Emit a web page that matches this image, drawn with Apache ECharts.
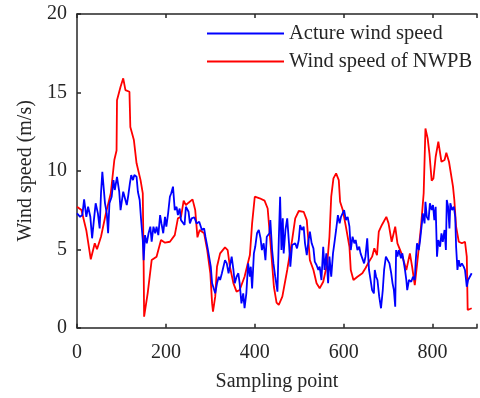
<!DOCTYPE html>
<html><head><meta charset="utf-8">
<script src="https://cdn.jsdelivr.net/npm/echarts@6/dist/echarts.min.js"></script>
<style>html,body{margin:0;padding:0;background:#fff}#c{width:480px;height:398px}</style>
</head><body><div id="c"></div>
<script>
const seriesNames = ['Acture wind speed', 'Wind speed of NWPB'];
const xTicks = [0, 200, 400, 600, 800];
const yTicks = [0, 5, 10, 15, 20];

const blueX = [0,7,12,16,21,25,30,34,38,42,47,51,54,57,60,63,67,70,73,78,82,85,90,95,98,104,107,112,115,119,122,126,129,134,137,141,144,148,150,153,157,161,165,168,172,176,179,183,187,190,194,198,201,205,209,212,
216,220,224,227,231,234,242,245,251,254,258,264,269,275,281,286,289,294,298,301,304,308,311,315,319,322,326,330,333,337,341,344,348,352,355,359,363,366,370,374,377,381,385,389,391,394,398,401,405,409,413,416,420,424,427,433,435,
439,442,446,451,454,457,460,463,465,469,473,477,480,484,488,491,495,499,502,506,510,513,517,521,524,528,532,535,539,543,546,550,554,557,561,565,568,572,576,580,583,587,591,594,598,601,605,609,613,616,620,624,627,631,635,638,642,646,649,653,657,660,
664,668,670,673,676,680,684,688,691,695,699,703,707,710,713,716,718,721,724,729,732,738,741,743,747,752,756,760,762,765,769,772,776,778,782,784,787,791,794,798,801,804,807,810,813,817,820,823,827,830,832,835,838,840,844,848,851,853,856,859,862,866,870,873,877,880,884,888];
const blueY = [7.29,7.07,7.18,8.18,7.07,7.71,7.07,5.7,6.86,7.93,7.29,6.33,8.57,9.94,9.84,7.93,7.29,6.02,7.93,8.35,9.41,8.78,9.62,8.67,7.5,8.67,8.35,7.82,8.35,9.2,9.73,9.41,9.73,9.62,8.67,8.14,6.97,5.59,4.31,5.9,5.38,6.02,6.44,5.48,6.44,6.02,6.44,5.9,7.18,6.65,6.02,7.07,6.44,7.29,8.35,8.57,
8.99,7.5,7.71,7.18,7.6,6.86,6.55,7.71,7.39,6.65,6.97,7.04,6.65,6.76,6.23,6.33,5.8,5.06,4.95,3.89,2.83,2.93,2.19,2.83,3.25,3.04,3.47,3.36,4.31,4.1,3.47,3.57,4.53,3.68,2.83,3.25,3.47,2.83,1.55,2.19,1.24,2.19,4.1,3.25,3.89,2.51,4.74,5.16,6.02,6.23,5.7,4.95,5.38,4.31,5.8,6.02,6.86,
4.95,4.1,3.25,2.3,5.59,8.35,4.95,6.97,4.74,6.23,6.97,5.38,3.89,5.27,5.16,5.38,5.06,5.59,6.55,6.23,6.44,5.38,4.63,5.59,6.12,5.38,5.06,4.21,4.0,3.68,3.89,3.04,5.16,3.68,4.74,2.83,4.53,3.25,4.74,5.59,6.23,7.18,6.65,7.07,6.97,7.5,6.86,7.07,6.44,4.95,5.8,5.38,5.59,4.95,5.16,4.74,4.63,4.1,4.53,5.7,3.68,3.15,
2.4,2.19,3.68,3.25,3.04,1.98,1.24,2.4,3.68,4.53,4.63,4.1,3.47,2.83,2.4,1.34,4.95,4.53,4.95,4.42,4.74,3.68,3.04,2.4,3.04,2.93,3.25,3.04,4.21,5.38,4.95,5.59,6.65,7.29,6.65,8.03,7.07,6.86,7.93,7.5,7.82,6.86,7.71,4.53,5.59,5.16,6.02,5.48,6.23,4.95,8.14,7.71,6.33,7.93,7.5,7.71,7.07,5.16,3.68,4.31,3.89,4.1,3.89,3.68,2.61,3.04,2.93,3.47];

const redX = [0,10,21,31,40,45,54,65,76,84,89,90,98,104,109,118,120,128,134,143,148,150,151,159,168,179,189,198,209,220,227,234,240,245,251,260,266,271,276,286,293,300,304,306,311,315,322,333,339,344,352,359,366,377,389,394,400,403,411,422,429,436,443,449,454,462,473,484,491,499,510,517,524,532,539,546,554,563,568,572,577,583,589,592,598,605,613,616,622,631,642,649,657,664,669,675,679,686,696,701,708,716,721,730,741,749,754,760,767,774,780,784,789,793,798,802,807,813,817,820,827,831,837,840,846,849,853,859,866,873,877,879,888];
const redY = [7.71,7.5,6.2,4.36,5.38,5.0,5.8,7.29,8.57,10.69,11.3,14.5,15.36,15.9,15.15,15.04,12.8,11.96,10.48,9.41,8.57,3.89,0.7,2.19,4.31,4.53,5.59,5.42,5.48,5.9,6.97,7.07,8.1,7.82,7.97,8.18,7.5,5.76,6.23,6.02,4.95,3.47,1.55,1.02,1.98,3.89,4.74,5.12,4.95,3.89,2.83,2.3,2.4,3.25,4.63,6.65,8.35,8.46,8.25,8.1,7.6,5.16,2.61,1.6,1.45,1.98,3.68,5.59,6.97,7.44,7.39,6.86,4.31,3.68,2.83,2.51,2.93,4.1,5.8,8.35,9.52,9.84,9.41,8.03,7.5,6.44,5.16,3.68,3.04,3.25,3.47,3.79,4.21,4.53,5.06,4.63,6.12,6.55,7.07,6.65,5.48,6.44,5.38,4.74,3.68,4.74,3.89,2.72,4.53,6.44,8.57,12.7,12.07,11.1,9.37,9.52,10.9,11.86,11.75,10.58,10.69,11.15,10.58,10.48,8.99,8.14,6.44,5.48,5.38,5.48,4.53,1.13,1.24];

function pairs(xs, ys) { return xs.map((x, i) => [x, ys[i]]); }

const FONT = 'Liberation Serif';
const AX = '#262626';
const chart = echarts.init(document.getElementById('c'), null, {renderer: 'canvas'});
chart.setOption({
  animation: false,
  backgroundColor: '#fff',
  grid: {left: 77, top: 14, width: 408, height: 313.7, containLabel: false},
  legend: {
    orient: 'vertical', left: 207, top: 23, padding: 0, itemWidth: 77, itemHeight: 2, itemGap: 7,
    icon: 'rect',
    textStyle: {fontFamily: FONT, fontSize: 20.5, color: AX, lineHeight: 20.5},
    data: seriesNames
  },
  xAxis: [{
    type: 'value', min: 0, max: 900, interval: 200,
    name: 'Sampling point', nameLocation: 'middle', nameGap: 44,
    nameTextStyle: {fontFamily: FONT, fontSize: 20, color: AX},
    axisLine: {show: true, onZero: false, lineStyle: {color: AX, width: 1.5}},
    axisTick: {show: true, inside: true, length: 4, lineStyle: {color: AX, width: 1.5}},
    axisLabel: {fontFamily: FONT, fontSize: 20, color: AX, margin: 15,
      formatter: v => xTicks.includes(v) ? String(v) : ''},
    splitLine: {show: false}
  }, {
    type: 'value', position: 'top', min: 0, max: 900, interval: 200,
    axisLine: {show: true, onZero: false, lineStyle: {color: AX, width: 1.5}},
    axisTick: {show: true, inside: true, length: 4, lineStyle: {color: AX, width: 1.5}},
    axisLabel: {show: false}, splitLine: {show: false}
  }],
  yAxis: [{
    type: 'value', min: 0, max: 20, interval: 5,
    name: 'Wind speed (m/s)', nameLocation: 'middle', nameGap: 40,
    nameTextStyle: {fontFamily: FONT, fontSize: 20, color: AX},
    axisLine: {show: true, onZero: false, lineStyle: {color: AX, width: 1.5}},
    axisTick: {show: true, inside: true, length: 4, lineStyle: {color: AX, width: 1.5}},
    axisLabel: {fontFamily: FONT, fontSize: 20, color: AX, margin: 10,
      formatter: v => yTicks.includes(v) ? String(v) : ''},
    splitLine: {show: false}
  }],
  series: [{
    name: seriesNames[0], type: 'line', data: pairs(blueX, blueY),
    symbol: 'none', lineStyle: {color: '#0000FF', width: 1.8}, itemStyle: {color: '#0000FF'}, z: 3
  }, {
    name: seriesNames[1], type: 'line', data: pairs(redX, redY),
    symbol: 'none', lineStyle: {color: '#FF0000', width: 1.8}, itemStyle: {color: '#FF0000'}, z: 2
  }]
});
</script></body></html>
